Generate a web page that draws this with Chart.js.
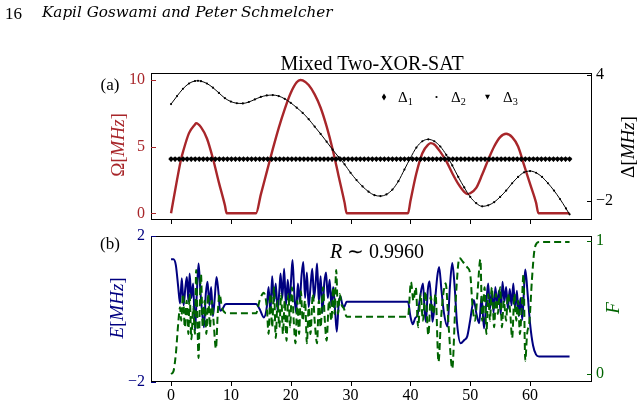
<!DOCTYPE html>
<html><head><meta charset="utf-8">
<script src="https://cdn.jsdelivr.net/npm/chart.js@4/dist/chart.umd.min.js"></script>
<style>
html,body{margin:0;padding:0;background:#fff;}
#wrap{position:relative;width:641px;height:404px;overflow:hidden;background:#fff;}
canvas{position:absolute;left:0;top:0;}
.t{position:absolute;white-space:nowrap;font-family:"Liberation Serif",serif;line-height:1;}
.c{transform:translate(-50%,-50%);}
.r{transform:translate(-50%,-50%) rotate(-90deg);}
i{font-style:italic;}
sub{font-size:0.68em;vertical-align:-0.25em;line-height:0;}
</style></head>
<body>
<div id="wrap">
<canvas id="c1" width="641" height="404"></canvas>
<canvas id="c2" width="641" height="404"></canvas>
<div class="t" style="left:5px;top:5px;font-size:17px;">16</div>
<div class="t" style="left:42px;top:5px;font-size:15.2px;font-family:'DejaVu Serif',serif;font-style:italic;">Kapil Goswami and Peter Schmelcher</div>
<div class="t c" style="left:372px;top:63px;font-size:20px;">Mixed Two-XOR-SAT</div>
<div class="t c" style="left:110px;top:84px;font-size:17px;">(a)</div>
<div class="t c" style="left:110px;top:243px;font-size:17px;">(b)</div>
<div class="t c" style="left:377px;top:251px;font-size:20px;"><i>R</i> ∼ 0.9960</div>
<div class="t r" style="left:117px;top:145px;font-size:19px;color:#a8262a;">Ω[<i>MHz</i>]</div>
<div class="t r" style="left:627px;top:147px;font-size:19px;color:#000;">Δ[<i>MHz</i>]</div>
<div class="t r" style="left:116px;top:308px;font-size:19px;color:#000080;"><i>E</i>[<i>MHz</i>]</div>
<div class="t r" style="left:612px;top:308px;font-size:19px;color:#006400;"><i>F</i></div>
<div class="t" style="left:398px;top:90px;font-size:15px;">Δ<sub>1</sub></div>
<div class="t" style="left:451px;top:90px;font-size:15px;">Δ<sub>2</sub></div>
<div class="t" style="left:503px;top:90px;font-size:15px;">Δ<sub>3</sub></div>
</div>
<script>
// ---------- data ----------
const xTickValues = [0,10,20,30,40,50,60];
const omegaTicks = [0,5,10];
const deltaTicks = [-2,4];
const energyTicks = [-2,2];
const fidelityTicks = [0,1];

const omegaT = [0,1,1.7,2,3,4,4.2,5,6,7,8,9,9.3,14.2,15,16,17,18,19,20,21,21.6,22,23,24,25,26,27,28,29,29.35,39.6,40,41,42,43,43.4,44,45,46,47,48,49,49.5,50,51,52,53,54,55,56,57,58,59,60,61,61.4,66.6];
const omegaV = [0,2.5,4.1,4.6,6.0,6.65,6.75,6.45,5.6,4.1,2.3,0.6,0,0,1.4,3.1,4.8,6.4,7.8,9.0,9.8,9.98,9.95,9.6,8.9,7.9,6.5,4.8,2.8,0.8,0,0,0.9,3.0,4.5,5.15,5.25,5.15,4.6,3.9,3.0,2.2,1.6,1.45,1.5,1.9,2.9,4.0,5.0,5.7,5.95,5.7,5.0,3.6,2.2,0.8,0,0];

const delta1Level = 0;       // Δ1 constant level
const delta3Level = 0;       // Δ3 hidden under Δ1
const deltaMarkerCount = 100; // marker sampling of the constant lines
const deltaEnd = 66.6;

const delta2T = [0,1,2,3,4,4.5,5,6,7,8,9,10,11,12,13,14,15,16,17,18,19,20,21,22,23,24,25,26,27,28,29,30,31,32,33,34,35,36,37,38,39,40,41,42,43,44,45,46,47,48,49,50,51,52,53,54,55,56,57,58,59,60,61,62,63,64,65,66,66.6];
const delta2V = [2.62,3.0,3.35,3.6,3.72,3.73,3.71,3.6,3.4,3.15,2.9,2.74,2.66,2.65,2.72,2.84,2.96,3.03,3.05,3.0,2.87,2.68,2.45,2.2,1.9,1.55,1.2,0.83,0.45,0.1,-0.25,-0.65,-1.0,-1.3,-1.55,-1.72,-1.76,-1.68,-1.45,-1.05,-0.5,0.05,0.55,0.85,0.94,0.85,0.6,0.2,-0.3,-0.85,-1.35,-1.8,-2.1,-2.25,-2.2,-2.05,-1.8,-1.5,-1.15,-0.85,-0.63,-0.57,-0.65,-0.85,-1.15,-1.5,-1.9,-2.35,-2.63];

const energyT = [0,0.4,0.8,1.2,1.5,1.8,2.1,2.4,2.65,2.9,3.1,3.4,3.7,4.0,4.3,4.6,4.9,5.2,5.5,5.8,6.1,6.4,6.7,7.0,7.3,7.6,7.9,8.2,8.6,9.0,9.3,14.2,14.8,15.5,16.0,16.3,16.6,16.9,17.2,17.5,17.8,18.1,18.3,18.6,18.9,19.2,19.5,19.8,20.1,20.3,20.6,20.9,21.2,21.5,21.8,22.1,22.4,22.7,23.0,23.3,23.6,23.9,24.2,24.4,24.7,25.0,25.3,25.6,25.9,26.2,26.5,26.8,27.1,27.4,27.7,28.0,28.3,28.6,28.9,29.35,39.6,40.0,40.4,40.8,41.2,41.6,42.1,42.4,42.6,42.9,43.2,43.5,43.7,44.1,44.5,44.8,45.2,45.6,46.2,46.6,47.0,47.4,47.8,48.4,49.0,49.5,50.0,50.6,51.0,51.5,51.9,52.3,52.7,53.0,53.3,53.6,53.9,54.2,54.5,54.8,55.1,55.4,55.7,56.0,56.3,56.6,56.9,57.2,57.5,57.8,58.1,58.4,58.7,59.0,59.2,59.6,60.0,60.5,61.0,61.5,66.6];
const energyV = [1.36,1.36,1.2,0.6,0.15,0.84,0.1,0.6,0.88,0.2,0.97,0.3,0.7,-0.6,0.4,1.25,0.5,-0.1,-0.5,0.4,0.75,0.1,0.6,-0.2,0.3,0.88,0.5,-0.05,0.0,0.12,0.14,0.14,0.0,-0.23,0.05,0.6,-0.1,0.9,0.2,0.7,-0.05,0.5,0.97,0.3,1.1,0.1,0.8,0.2,0.9,1.34,0.4,-0.1,0.7,0.2,0.9,1.29,0.3,1.0,0.05,0.6,1.1,0.3,0.8,1.25,0.2,0.9,-0.1,0.7,1.0,0.3,0.8,0.1,0.6,0.0,-0.62,0.1,0.35,0.14,0.05,0.2,0.2,-0.2,-0.42,-0.25,-0.16,0.3,0.7,-0.1,-0.35,0.5,0.76,0.1,-0.35,0.2,0.9,1.15,0.5,-0.1,-0.48,0.6,1.26,0.6,-0.4,-0.94,-0.85,-0.75,-0.3,0.25,-0.1,-0.39,0.34,-0.53,0.2,0.7,0.0,0.5,-0.1,0.6,0.1,0.5,-0.15,0.75,0.2,0.6,0.0,0.55,0.1,0.7,0.0,0.5,-0.2,0.3,-0.3,0.6,1.08,0.4,-0.4,-1.0,-1.25,-1.3,-1.3];

const fidT = [0,0.4,0.8,1.2,1.5,1.7,2.0,2.3,2.6,2.9,3.1,3.4,3.7,4.0,4.2,4.4,4.6,4.8,5.0,5.3,5.6,5.9,6.2,6.5,6.8,7.1,7.5,7.8,8.1,8.5,9.0,9.3,14.2,14.8,15.5,16.0,16.3,16.6,16.9,17.2,17.5,17.8,18.1,18.4,18.7,19.0,19.3,19.6,19.9,20.2,20.5,20.8,21.1,21.4,21.7,22.0,22.4,22.7,23.0,23.3,23.7,24.0,24.4,24.7,25.0,25.4,25.7,26.0,26.4,26.8,27.1,27.3,27.6,27.9,28.2,28.5,28.9,29.35,39.6,40.1,40.5,40.9,41.3,41.7,42.1,42.5,43.0,43.4,43.8,44.2,44.7,45.1,45.5,45.9,46.4,47.0,47.5,48.2,48.8,49.5,50.0,50.4,50.8,51.2,51.7,52.0,52.4,52.7,53.0,53.3,53.6,54.0,54.3,54.6,55.0,55.3,55.6,56.0,56.3,56.7,57.0,57.4,57.7,58.0,58.3,58.6,58.9,59.2,59.5,59.9,60.3,60.7,61.1,61.5,66.6];
const fidV = [0.0,0.02,0.15,0.38,0.5,0.4,0.6,0.35,0.55,0.3,0.6,0.26,0.5,0.3,0.78,0.4,0.12,0.5,0.75,0.35,0.55,0.3,0.6,0.35,0.55,0.4,0.19,0.45,0.6,0.5,0.46,0.455,0.455,0.55,0.61,0.5,0.3,0.6,0.35,0.65,0.27,0.55,0.35,0.6,0.3,0.55,0.25,0.6,0.35,0.65,0.4,0.23,0.55,0.3,0.62,0.4,0.55,0.23,0.5,0.3,0.6,0.4,0.23,0.55,0.35,0.65,0.4,0.25,0.55,0.4,0.65,0.45,0.78,0.45,0.6,0.52,0.49,0.43,0.43,0.69,0.55,0.65,0.35,0.6,0.4,0.62,0.29,0.58,0.45,0.6,0.09,0.4,0.6,0.68,0.35,0.04,0.5,0.87,0.84,0.8,0.75,0.5,0.4,0.6,0.86,0.4,0.65,0.3,0.6,0.4,0.65,0.35,0.6,0.45,0.65,0.35,0.55,0.4,0.6,0.45,0.27,0.6,0.4,0.55,0.3,0.5,0.75,0.1,0.3,0.4,0.7,0.92,0.98,0.99,0.99];

// ---------- styles ----------
const RED = '#a8262a', NAVY = '#000080', GREEN = '#006400';
const FONT = 'Liberation Serif';
Chart.defaults.font.family = FONT;
Chart.defaults.color = '#000';

const pairs = (xs, ys) => xs.map((x, i) => ({x, y: ys[i]}));
const markerGrid = Array.from({length: deltaMarkerCount}, (_, i) => deltaEnd * i / (deltaMarkerCount - 1));
const fixed = vals => s => { s.ticks = vals.map(v => ({value: v})); };
const fmt = v => (v < 0 ? '\u2212' + Math.abs(v) : String(v));

// frame + tick marks plugin (x ticks outward, y ticks inward)
const frame = {
  id: 'frame',
  afterDraw(chart, args, o) {
    const {ctx, chartArea: a} = chart;
    ctx.save();
    ctx.lineWidth = 1;
    ctx.strokeStyle = '#000';
    ctx.strokeRect(Math.round(a.left) + 0.5, Math.round(a.top) + 0.5, Math.round(a.width) - 1, Math.round(a.height) - 1);
    const xs = chart.scales.x;
    xTickValues.forEach(v => {
      const px = Math.round(xs.getPixelForValue(v)) + 0.5;
      ctx.beginPath(); ctx.moveTo(px, a.bottom); ctx.lineTo(px, a.bottom + 4); ctx.stroke();
    });
    (o.yTicks || []).forEach(t => {
      const s = chart.scales[t.id];
      ctx.strokeStyle = t.color;
      t.values.forEach(v => {
        const py = Math.round(s.getPixelForValue(v)) + 0.5;
        ctx.beginPath();
        if (t.side === 'left') { ctx.moveTo(a.left, py); ctx.lineTo(a.left + 5, py); }
        else { ctx.moveTo(a.right, py); ctx.lineTo(a.right - 5, py); }
        ctx.stroke();
      });
    });
    // legend markers (panel a)
    if (o.legend) {
      ctx.fillStyle = '#000';
      const y = 97;
      ctx.beginPath(); ctx.moveTo(384, y - 3.5); ctx.lineTo(386.2, y); ctx.lineTo(384, y + 3.5); ctx.lineTo(381.8, y); ctx.closePath(); ctx.fill();
      ctx.beginPath(); ctx.arc(436.5, y, 1.1, 0, Math.PI * 2); ctx.fill();
      ctx.beginPath(); ctx.moveTo(485, y - 2.2); ctx.lineTo(490, y - 2.2); ctx.lineTo(487.5, y + 2.6); ctx.closePath(); ctx.fill();
    }
    ctx.restore();
  }
};

const xScale = (showLabels, h) => ({
  type: 'linear', min: -3.35, max: 70.35,
  afterBuildTicks: fixed(xTickValues),
  afterFit: s => { s.height = h; },
  grid: {display: false, drawTicks: false},
  border: {display: false},
  ticks: {display: showLabels, autoSkip: false, maxRotation: 0, padding: 4, font: {size: 16}, color: '#000', callback: fmt}
});
const yScale = (pos, min, max, vals, color, w) => ({
  type: 'linear', position: pos, min, max,
  afterBuildTicks: fixed(vals),
  afterFit: s => { s.width = w; },
  grid: {display: false, drawTicks: false},
  border: {display: false},
  ticks: {padding: pos === 'left' ? 6 : 4, font: {size: 16}, color, callback: fmt}
});

// ---------- panel (a) ----------
new Chart(document.getElementById('c1'), {
  type: 'line',
  data: {
    datasets: [
      {label: 'Δ1', yAxisID: 'yD', data: markerGrid.map(x => ({x, y: delta1Level})), showLine: false,
       pointStyle: 'rectRot', pointRadius: 2.8, backgroundColor: '#000', borderColor: '#000', borderWidth: 0},
      {label: 'Δ3', yAxisID: 'yD', data: markerGrid.map(x => ({x, y: delta3Level})), showLine: false,
       pointStyle: 'triangle', rotation: 180, pointRadius: 2.6, backgroundColor: '#000', borderColor: '#000', borderWidth: 0},
      {label: 'Δ2', yAxisID: 'yD', data: pairs(delta2T, delta2V), borderColor: '#000', borderWidth: 1,
       pointRadius: 1.1, pointBackgroundColor: '#000', pointBorderWidth: 0, cubicInterpolationMode: 'monotone'},
      {label: 'Ω', yAxisID: 'yO', data: pairs(omegaT, omegaV), borderColor: RED, borderWidth: 2.4,
       pointRadius: 0, cubicInterpolationMode: 'monotone'}
    ]
  },
  options: {
    responsive: false, animation: false, devicePixelRatio: 1,
    layout: {padding: {left: 111, right: 9, top: 73, bottom: 174}},
    plugins: {legend: {display: false}, tooltip: {enabled: false},
      frame: {legend: true, yTicks: [{id: 'yO', side: 'left', values: omegaTicks, color: RED}, {id: 'yD', side: 'right', values: deltaTicks, color: '#000'}]}},
    scales: {
      x: xScale(false, 10),
      yO: yScale('left', -0.5, 10.5, omegaTicks, RED, 40),
      yD: yScale('right', -2.9, 4.1, deltaTicks, '#000', 40)
    }
  },
  plugins: [frame]
});

// ---------- panel (b) ----------
new Chart(document.getElementById('c2'), {
  type: 'line',
  data: {
    datasets: [
      {label: 'F', yAxisID: 'yF', data: pairs(fidT, fidV), borderColor: GREEN, borderWidth: 2, borderDash: [7, 4],
       pointRadius: 0, cubicInterpolationMode: 'monotone'},
      {label: 'E', yAxisID: 'yE', data: pairs(energyT, energyV), borderColor: NAVY, borderWidth: 2,
       pointRadius: 0, cubicInterpolationMode: 'monotone'}
    ]
  },
  options: {
    responsive: false, animation: false, devicePixelRatio: 1,
    layout: {padding: {left: 111, right: 9, top: 236, bottom: 0}},
    plugins: {legend: {display: false}, tooltip: {enabled: false},
      frame: {yTicks: [{id: 'yE', side: 'left', values: energyTicks, color: NAVY}, {id: 'yF', side: 'right', values: fidelityTicks, color: GREEN}]}},
    scales: {
      x: xScale(true, 22),
      yE: yScale('left', -2, 2, energyTicks, NAVY, 40),
      yF: yScale('right', -0.06, 1.035, fidelityTicks, GREEN, 40)
    }
  },
  plugins: [frame]
});
</script>
</body></html>
